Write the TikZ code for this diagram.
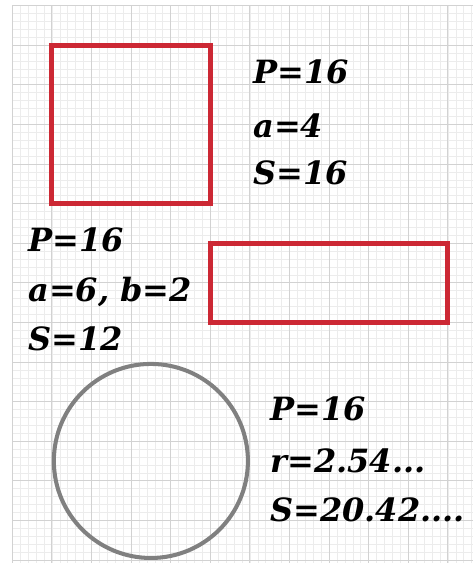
\documentclass[tikz,border=0pt]{standalone}
\usepackage{fontspec}
\usepackage{tikz}
\newfontfamily\factfont{DejaVu Serif}

\definecolor{figred}{RGB}{204,40,52}
\definecolor{figgray}{RGB}{128,128,128}
\tikzset{
    fact/.style={anchor=base west, inner sep=0pt, font=\factfont\fontsize{23}{27}\selectfont\bfseries\itshape},
    redline/.style={draw=figred, line width=3.6pt},
}

\begin{document}
\begin{tikzpicture}
        \useasboundingbox[fill=white] (-0.31,0.14) rectangle (11.634,-14.077);
        \draw[gray!15, line width=0.4pt, step=0.2] (0,0) grid (11.634,-14.077);
        \draw[gray!35, line width=0.6pt, step=1] (0,0) grid (11.634,-14.077);

        \draw[redline] (1,-1) rectangle (5,-5);
        \draw[redline] (5,-6) rectangle (11,-8);
        \draw[draw=figgray, line width=2.9pt] (3.5,-11.5) circle (2.45);

        \node[fact] (p1) at (6.08,-1.96) {P=16};
        \node[fact] (a1) at (6.08,-3.32) {a=4};
        \node[fact] (s1) at (6.08,-4.53) {S=16};

        \node[fact] (p2) at (0.40,-6.22) {P=16};
        \node[fact] (a2) at (0.40,-7.48) {a=6, b=2};
        \node[fact] (s2) at (0.40,-8.70) {S=12};

        \node[fact] (p3) at (6.51,-10.47) {P=16};
        \node[fact] (r3) at (6.51,-11.78) {r=2.54...};
        \node[fact] (s3) at (6.51,-13.04) {S=20.42....};
\end{tikzpicture}
\end{document}
